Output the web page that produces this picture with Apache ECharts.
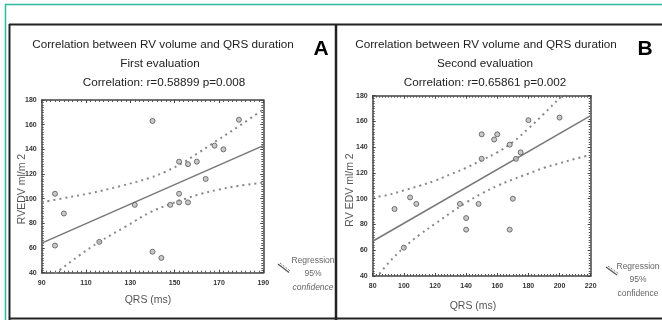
<!DOCTYPE html>
<html><head><meta charset="utf-8">
<script src="https://cdn.jsdelivr.net/npm/echarts@6/dist/echarts.min.js"></script>
<style>html,body{margin:0;padding:0;background:#fff}#c{width:662px;height:320px}</style>
</head><body><div id="c"></div>
<script>
// Panel A data (first evaluation)
const aQRS = [96,100,96,116,132,140,140,144,148,152,152,156,152,156,160,164,168,172,179];
const aRV  = [104,88,62,65,95,163,57,52,95,104,97,97,130,128,130,116,143,140,164];
const aRegX = [90,190];
const aRegY = [64,143];
const aUpX = [90,100,112,125,139,146,154,161,169,180,190];
const aUpY = [97,100.5,104.5,110,117,122,129.5,137.5,147,160,172.5];
const aLoX = [96,98,107,116,128,139,147,155,162,169,179,190];
const aLoY = [39,42,54,65,77.5,89,95,100,104,107,110.5,113];
// Panel B data (second evaluation)
const bQRS = [94,100,104,108,136,140,140,148,150,150,158,160,168,170,168,172,175,180,200];
const bRV  = [92,62,101,96,96,85,76,96,150,131,146,150,142,100,76,131,136,161,163];
const bRegX = [80,220];
const bRegY = [67,164.5];
const bUpX = [80,90,100,110,120,130,140,150,160,170,180,190,200,204];
const bUpY = [101,103,106.5,110,114,119,124,130,136,144,154.5,166,178,182];
const bLoX = [82,90,100,110,120,130,140,150,160,170,180,190,200,210,220];
const bLoY = [38,50,62,72,80.5,89,97,104,110,115,119.5,124,127.5,131,134];
// Axis settings
const aXRange = [90,190];
const bXRange = [80,220];
const yRange = [40,180];
const tickStep = 20;
const titlesA = ['Correlation between RV volume and QRS duration','First evaluation','Correlation: r=0.58899 p=0.008'];
const titlesB = ['Correlation between RV volume and QRS duration','Second evaluation','Correlation: r=0.65861 p=0.002'];
const legendText = ['Regression','95%','confidence'];

const FONT = "'Liberation Sans',Arial,sans-serif";
const zip = (xs,ys)=>xs.map((x,i)=>[x,ys[i]]);
const chart = echarts.init(document.getElementById('c'), null, {renderer:'canvas'});

const grids = [
  {left:41.7, top:100, width:221.6, height:172.7},
  {left:372.7, top:95.7, width:218, height:180.3}
];
function xAx(gi, range, pos, labels){
  return {type:'value', gridIndex:gi, min:range[0], max:range[1], interval:tickStep, position:pos,
    axisLine:{show:true, lineStyle:{color:'#444', width:1.5}},
    axisTick:{show:true, inside:true, length:3, lineStyle:{color:'#444', width:1}},
    minorTick:{show:true, splitNumber:10, length:2, lineStyle:{color:'#555', width:1}},
    splitLine:{show:false},
    axisLabel:{show:labels, margin:7, fontFamily:FONT, fontWeight:'bold', fontSize:7, color:'#333'}};
}
function yAx(gi, pos, labels){
  return {type:'value', gridIndex:gi, min:yRange[0], max:yRange[1], interval:tickStep, position:pos,
    axisLine:{show:true, lineStyle:{color:'#444', width:1.5}},
    axisTick:{show:true, inside:true, length:3, lineStyle:{color:'#444', width:1}},
    minorTick:{show:true, splitNumber:10, length:2, lineStyle:{color:'#555', width:1}},
    splitLine:{show:false},
    axisLabel:{show:labels, margin:5, fontFamily:FONT, fontWeight:'bold', fontSize:7, color:'#333'}};
}
const xAxis = [xAx(0,aXRange,'bottom',true), xAx(0,aXRange,'top',false), xAx(1,bXRange,'bottom',true), xAx(1,bXRange,'top',false)];
const yAxis = [yAx(0,'left',true), yAx(0,'right',false), yAx(1,'left',true), yAx(1,'right',false)];

function panelSeries(xi, yi, qrs, rv, rx, ry, ux, uy, lx, ly){
  return [
    {type:'scatter', xAxisIndex:xi, yAxisIndex:yi, data:zip(qrs,rv), symbol:'circle', symbolSize:5,
      itemStyle:{color:'#bbb', borderColor:'#555', borderWidth:1}, z:5},
    {type:'line', xAxisIndex:xi, yAxisIndex:yi, data:zip(rx,ry), showSymbol:false, symbol:'none',
      lineStyle:{color:'#777', width:1.5}},
    {type:'line', xAxisIndex:xi, yAxisIndex:yi, data:zip(ux,uy), showSymbol:false, symbol:'none', smooth:0.4,
      lineStyle:{color:'#888', width:2, type:[2,4]}},
    {type:'line', xAxisIndex:xi, yAxisIndex:yi, data:zip(lx,ly), showSymbol:false, symbol:'none', smooth:0.4,
      lineStyle:{color:'#888', width:2, type:[2,4]}}
  ];
}
const series = [].concat(
  panelSeries(0,0,aQRS,aRV,aRegX,aRegY,aUpX,aUpY,aLoX,aLoY),
  panelSeries(2,2,bQRS,bRV,bRegX,bRegY,bUpX,bUpY,bLoX,bLoY)
);

function txt(x,y,text,font,fill,rot){
  return {type:'text', x:x, y:y, rotation:rot||0, silent:true,
    style:{text:text, font:font, fill:fill, align:'center', verticalAlign:'middle', textAlign:'center', textVerticalAlign:'middle'}};
}
function line(x1,y1,x2,y2,color,w,dash){
  return {type:'line', silent:true, shape:{x1:x1,y1:y1,x2:x2,y2:y2}, style:{stroke:color, lineWidth:w, lineDash:dash||null}};
}
const TF = '11.7px ' + FONT;
const graphic = [
  // teal outer border
  line(5,4.5,662,4.5,'#2fb9a4',1.5),
  line(5.5,4,5.5,320,'#2fb9a4',1.5),
  // black panel box
  line(9,24.5,662,24.5,'#222',2),
  line(9.5,24,9.5,320,'#222',2),
  line(9,318.5,662,318.5,'#222',2),
  line(336,24,336,320,'#222',2.5),
  // titles A
  txt(163,45,titlesA[0],TF,'#222'),
  txt(160,64,titlesA[1],TF,'#222'),
  txt(164,83,titlesA[2],TF,'#222'),
  txt(321,49,'A','bold 21px '+FONT,'#000'),
  // titles B
  txt(486,45,titlesB[0],TF,'#222'),
  txt(485,64,titlesB[1],TF,'#222'),
  txt(485,83,titlesB[2],TF,'#222'),
  txt(645,49,'B','bold 21px '+FONT,'#000'),
  // axis names
  txt(148,300,'QRS (ms)','10.5px '+FONT,'#555'),
  txt(22,189,'RVEDV ml/m 2','10.5px '+FONT,'#555',Math.PI/2),
  txt(473,306,'QRS (ms)','10.5px '+FONT,'#555'),
  txt(350.5,190,'RV EDV ml/m 2','10.5px '+FONT,'#555',Math.PI/2),
  // legend A
  line(278,264,289,272.5,'#555',1.2),
  line(280,263,291,271.5,'#777',1,[2,1.5]),
  txt(313,261,legendText[0],'8.5px '+FONT,'#666'),
  txt(313,273.5,legendText[1],'8.5px '+FONT,'#666'),
  txt(313,287.5,legendText[2],'italic 8.5px '+FONT,'#666'),
  // legend B
  line(606,267,617,275,'#555',1.2),
  line(608,266,619,274,'#777',1,[2,1.5]),
  txt(638,267,legendText[0],'8.5px '+FONT,'#666'),
  txt(638,280,legendText[1],'8.5px '+FONT,'#666'),
  txt(638,293.5,legendText[2],'8.5px '+FONT,'#666')
];

chart.setOption({animation:false, backgroundColor:'#fff', grid:grids, xAxis:xAxis, yAxis:yAxis, series:series, graphic:graphic});
</script></body></html>
